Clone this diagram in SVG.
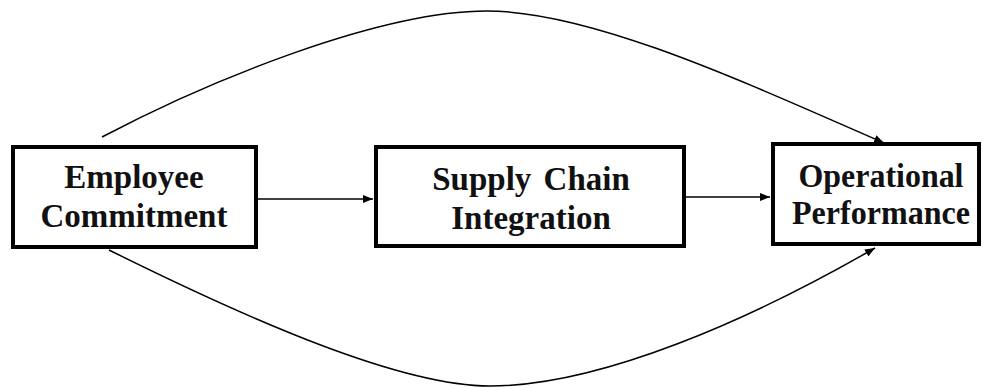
<svg xmlns="http://www.w3.org/2000/svg" width="983" height="388" viewBox="0 0 983 388">
<style>
.box{fill:#fff;stroke:#000;stroke-width:4}
.lbl{font-family:"Liberation Serif","Times New Roman",serif;font-weight:bold;font-size:33px;fill:#111;text-anchor:middle}
.con{fill:none;stroke:#000;stroke-width:1.5}
</style>
<defs>
<marker id="ah" viewBox="0 0 10 8" refX="10" refY="4" markerWidth="10" markerHeight="8" markerUnits="userSpaceOnUse" orient="auto">
<path d="M0,0 L10,4 L0,8 Z" fill="#000"/>
</marker>
</defs>
<rect width="983" height="388" fill="#fff"/>
<g id="connectors">
<path class="con" d="M258,199 L373,199" marker-end="url(#ah)"/>
<path class="con" d="M686,197 L770,197" marker-end="url(#ah)"/>
<path class="con" d="M102,137 C210,80 380,11 487,11 C590,11 740,80 884,143" marker-end="url(#ah)"/>
<path class="con" d="M109,250 C250,320 400,386 490,386 C600,386 750,320 875,248" marker-end="url(#ah)"/>
</g>
<g id="employee-commitment">
<rect class="box" x="13" y="147" width="243" height="100"/>
<text class="lbl" x="134" y="188">Employee</text>
<text class="lbl" x="134" y="227">Commitment</text>
</g>
<g id="supply-chain-integration">
<rect class="box" x="376" y="147" width="308" height="99"/>
<text class="lbl" x="531" y="190" word-spacing="4">Supply Chain</text>
<text class="lbl" x="531" y="229">Integration</text>
</g>
<g id="operational-performance">
<rect class="box" x="773" y="144" width="206" height="100"/>
<text class="lbl" x="881" y="187" textLength="165" lengthAdjust="spacingAndGlyphs">Operational</text>
<text class="lbl" x="881" y="224" textLength="178" lengthAdjust="spacingAndGlyphs">Performance</text>
</g>
</svg>
